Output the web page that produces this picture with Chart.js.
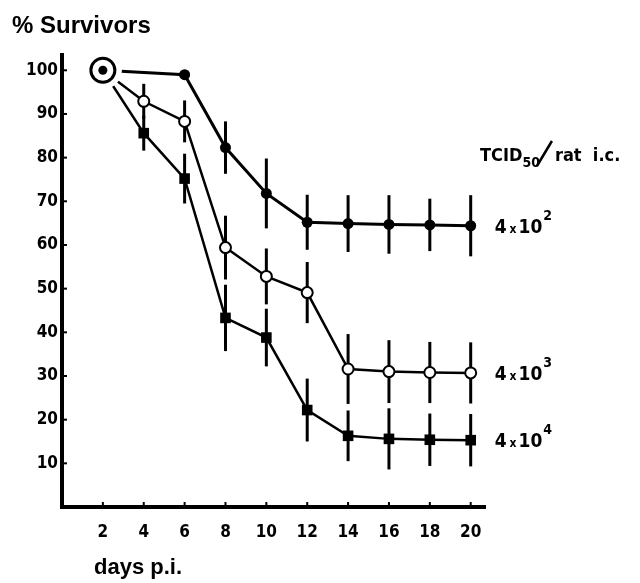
<!DOCTYPE html>
<html>
<head>
<meta charset="utf-8">
<script src="https://cdn.jsdelivr.net/npm/chart.js@4.4.1/dist/chart.umd.min.js"></script>
<style>
  html, body { margin: 0; padding: 0; background: #fff; }
  #wrap { width: 640px; height: 583px; }
</style>
</head>
<body>
<div id="wrap"><canvas id="survivalChart" width="640" height="583"></canvas></div>
<script>
// tick labels
const xTicks = [2, 4, 6, 8, 10, 12, 14, 16, 18, 20];
const yTicks = [10, 20, 30, 40, 50, 60, 70, 80, 90, 100];

// 4 x 10^2 TCID50 (filled circles)
const days1 = [2, 6, 8, 10, 12, 14, 16, 18, 20];
const surv1 = [100, 99, 82.3, 71.8, 65.2, 64.9, 64.7, 64.6, 64.4];
const err1 = [0, 0, 6, 8, 6.3, 6.5, 6.7, 6, 7];

// 4 x 10^3 TCID50 (open circles)
const days2 = [2, 4, 6, 8, 10, 12, 14, 16, 18, 20];
const surv2 = [100, 92.9, 88.3, 59.4, 52.8, 49.1, 31.6, 31.0, 30.8, 30.7];
const err2 = [0, 4, 4.8, 7.3, 6.4, 7, 8, 7.2, 7, 7];

// 4 x 10^4 TCID50 (filled squares)
const days3 = [2, 4, 6, 8, 10, 12, 14, 16, 18, 20];
const surv3 = [100, 85.6, 75.2, 43.3, 38.8, 22.2, 16.3, 15.6, 15.4, 15.3];
const err3 = [0, 4, 5.7, 7.6, 6.6, 7.2, 5.8, 7, 6, 6];

const doseExp = ['2', '3', '4'];
const startDay = 2;
const startValue = 100;

const FONT = '"Liberation Sans Narrow", "DejaVu Sans Condensed", "Liberation Sans", Arial, sans-serif';
const TEXT_FONT = '"Liberation Sans", Arial, sans-serif';

function pts(days, vals) {
    return days.map((d, i) => ({ x: d, y: vals[i] }));
}

const seriesErr = [err1, err2, err3];

// vertical error bars + small inside tick marks
const errorBarPlugin = {
    id: 'errorBars',
    beforeDatasetsDraw(chart) {
        const ctx = chart.ctx;
        const xs = chart.scales.x;
        const ys = chart.scales.y;
        ctx.save();
        ctx.strokeStyle = '#000';
        ctx.lineWidth = 3;
        for (let i = 0; i < 3; i++) {
            const ds = chart.data.datasets[i];
            ds.data.forEach((p, j) => {
                const e = seriesErr[i][j];
                if (!e) return;
                const px = xs.getPixelForValue(p.x);
                ctx.beginPath();
                ctx.moveTo(px, ys.getPixelForValue(p.y + e));
                ctx.lineTo(px, ys.getPixelForValue(p.y - e));
                ctx.stroke();
            });
        }
        // tick marks
        ctx.lineWidth = 2;
        const area = chart.chartArea;
        xTicks.forEach(v => {
            const px = xs.getPixelForValue(v);
            ctx.beginPath();
            ctx.moveTo(px, area.bottom);
            ctx.lineTo(px, area.bottom - 5);
            ctx.stroke();
        });
        yTicks.forEach(v => {
            const py = ys.getPixelForValue(v);
            ctx.beginPath();
            ctx.moveTo(area.left, py);
            ctx.lineTo(area.left + 5, py);
            ctx.stroke();
        });
        ctx.restore();
    }
};

// texts: title, x label, dose labels
const textPlugin = {
    id: 'texts',
    afterDraw(chart) {
        const ctx = chart.ctx;
        const xs = chart.scales.x;
        const ys = chart.scales.y;
        ctx.save();
        ctx.fillStyle = '#000';
        ctx.strokeStyle = '#000';
        ctx.textBaseline = 'alphabetic';
        ctx.textAlign = 'left';

        ctx.font = 'bold 24px ' + TEXT_FONT;
        ctx.fillText('% Survivors', 12, 33);
        ctx.font = 'bold 22px ' + TEXT_FONT;
        ctx.fillText('days p.i.', 94, 574);

        // TCID50/rat i.c.
        let x = 480;
        const base = 161;
        ctx.font = 'bold 18px ' + FONT;
        ctx.fillText('TCID', x, base);
        x += ctx.measureText('TCID').width;
        ctx.font = 'bold 14px ' + FONT;
        ctx.fillText('50', x, base + 6);
        x += ctx.measureText('50').width;
        ctx.lineWidth = 2.5;
        ctx.beginPath();
        ctx.moveTo(x - 3, base + 5);
        ctx.lineTo(x + 12, base - 20);
        ctx.stroke();
        x += 15;
        ctx.font = 'bold 18px ' + FONT;
        ctx.fillText('rat  i.c.', x, base);

        // dose labels next to the last point of each series
        for (let i = 0; i < 3; i++) {
            const data = chart.data.datasets[i].data;
            const last = data[data.length - 1];
            let lx = xs.getPixelForValue(last.x) + 24;
            const ly = ys.getPixelForValue(last.y) + 7;
            ctx.font = 'bold 19px ' + FONT;
            ctx.fillText('4', lx, ly);
            lx += ctx.measureText('4').width + 3;
            ctx.font = 'bold 12px ' + FONT;
            ctx.fillText('x', lx, ly);
            lx += ctx.measureText('x').width + 2;
            ctx.font = 'bold 19px ' + FONT;
            ctx.fillText('10', lx, ly);
            lx += ctx.measureText('10').width + 1;
            ctx.font = 'bold 14px ' + FONT;
            ctx.fillText(doseExp[i], lx, ly - 13);
        }
        ctx.restore();
    }
};

const ctxEl = document.getElementById('survivalChart');

new Chart(ctxEl, {
    type: 'line',
    data: {
        datasets: [
            {
                label: '4 x 10^2',
                data: pts(days1, surv1),
                borderColor: '#000',
                borderWidth: 3,
                backgroundColor: '#000',
                pointStyle: 'circle',
                pointRadius: days1.map(d => d === startDay ? 0 : 5.5),
                pointBorderWidth: 0,
                pointBackgroundColor: '#000',
                tension: 0,
                clip: false
            },
            {
                label: '4 x 10^3',
                data: pts(days2, surv2),
                borderColor: '#000',
                borderWidth: 2.5,
                pointStyle: 'circle',
                pointRadius: days2.map(d => d === startDay ? 0 : 5.5),
                pointBorderWidth: 2,
                pointBorderColor: '#000',
                pointBackgroundColor: '#fff',
                tension: 0,
                clip: false
            },
            {
                label: '4 x 10^4',
                data: pts(days3, surv3),
                borderColor: '#000',
                borderWidth: 2.5,
                pointStyle: 'rect',
                pointRadius: days3.map(d => d === startDay ? 0 : 7.5),
                pointBorderWidth: 0,
                pointBackgroundColor: '#000',
                tension: 0,
                clip: false
            },
            {
                // white gap around the common start point
                label: 'halo',
                data: [{ x: startDay, y: startValue }],
                showLine: false,
                pointRadius: 19,
                pointBorderWidth: 0,
                pointBackgroundColor: '#fff',
                order: -1,
                clip: false
            },
            {
                label: 'ring',
                data: [{ x: startDay, y: startValue }],
                showLine: false,
                pointRadius: 12,
                pointBorderWidth: 3,
                pointBorderColor: '#000',
                pointBackgroundColor: '#fff',
                order: -2,
                clip: false
            },
            {
                label: 'dot',
                data: [{ x: startDay, y: startValue }],
                showLine: false,
                pointRadius: 4.5,
                pointBorderWidth: 0,
                pointBackgroundColor: '#000',
                order: -3,
                clip: false
            }
        ]
    },
    options: {
        responsive: false,
        animation: false,
        devicePixelRatio: 1,
        layout: { padding: { left: 0, top: 55, right: 155, bottom: 0 } },
        plugins: {
            legend: { display: false },
            tooltip: { enabled: false },
            title: { display: false }
        },
        scales: {
            x: {
                type: 'linear',
                min: 0,
                max: 20.7,
                grid: { display: false, drawTicks: false },
                border: { display: true, color: '#000', width: 4 },
                afterBuildTicks: s => { s.ticks = xTicks.map(v => ({ value: v })); },
                afterFit: s => { s.height = 76; },
                ticks: {
                    color: '#000',
                    padding: 15,
                    maxRotation: 0,
                    autoSkip: false,
                    font: { family: FONT, size: 17, weight: 'bold' }
                }
            },
            y: {
                type: 'linear',
                min: 0,
                max: 103.5,
                grid: { display: false, drawTicks: false },
                border: { display: true, color: '#000', width: 4 },
                afterBuildTicks: s => { s.ticks = yTicks.map(v => ({ value: v })); },
                afterFit: s => { s.width = 62; },
                ticks: {
                    color: '#000',
                    padding: 4,
                    autoSkip: false,
                    font: { family: FONT, size: 17, weight: 'bold' }
                }
            }
        }
    },
    plugins: [errorBarPlugin, textPlugin]
});
</script>
</body>
</html>
